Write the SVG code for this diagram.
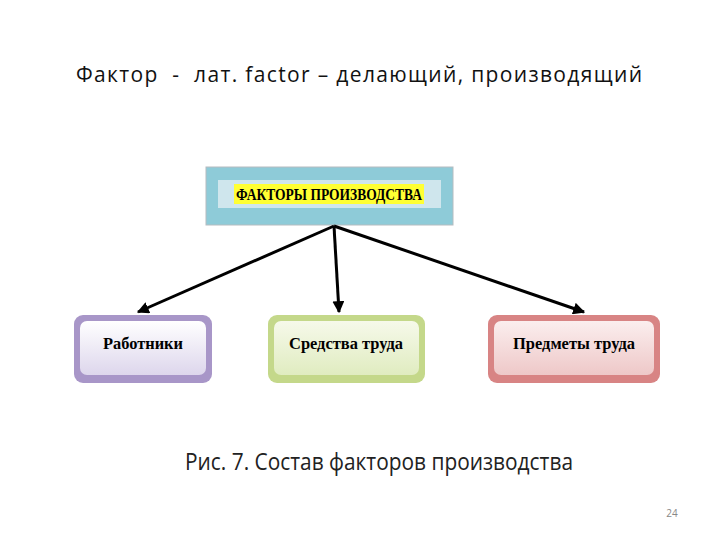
<svg xmlns="http://www.w3.org/2000/svg" width="720" height="540" viewBox="0 0 720 540">
<defs>
<style>
.t{font-family:"Liberation Serif",serif;font-weight:bold;font-size:17px;text-anchor:middle}
.c{stroke:#000;stroke-width:3;fill:none}
</style>
<marker id="a" viewBox="0 0 10 10" refX="9" refY="5" markerWidth="4" markerHeight="4" orient="auto"><path d="M0,0L10,5L0,10z" fill="#000"/></marker>
<linearGradient id="gp" x1="0" y1="0" x2="0" y2="1"><stop offset="0" stop-color="#fff"/><stop offset="1" stop-color="#ddd6ec"/></linearGradient>
<linearGradient id="gg" x1="0" y1="0" x2="0" y2="1"><stop offset="0" stop-color="#f6f9ea"/><stop offset="1" stop-color="#e0ecc0"/></linearGradient>
<linearGradient id="gr" x1="0" y1="0" x2="0" y2="1"><stop offset="0" stop-color="#fbeeee"/><stop offset="1" stop-color="#eec8c8"/></linearGradient>
</defs>
<rect width="720" height="540" fill="#fff"/>
<text x="76" y="82" font-family="Open Sans,sans-serif" font-size="21" fill="#111" textLength="566" lengthAdjust="spacing" xml:space="preserve">Фактор  -  лат. factor – делающий, производящий</text>
<g id="top">
<rect x="206" y="167" width="247" height="58" fill="#8ecbd8" stroke="#b5bcc0"/>
<rect x="218" y="180" width="223" height="28" fill="#cfe6ed"/>
<rect x="234" y="184" width="190" height="20" fill="#ffff33"/>
<text class="t" x="329" y="200" font-size="15" textLength="186" lengthAdjust="spacingAndGlyphs">ФАКТОРЫ ПРОИЗВОДСТВА</text>
</g>
<g id="n1">
<rect x="74" y="315" width="138" height="68" rx="9" fill="#a896c8"/>
<rect x="80" y="321" width="126" height="54" rx="7" fill="url(#gp)"/>
<text class="t" x="143" y="349" textLength="80" lengthAdjust="spacingAndGlyphs">Работники</text>
</g>
<g id="n2">
<rect x="268" y="315" width="157" height="68" rx="9" fill="#c4d88a"/>
<rect x="274" y="321" width="145" height="54" rx="7" fill="url(#gg)"/>
<text class="t" x="346" y="349" textLength="114" lengthAdjust="spacingAndGlyphs">Средства труда</text>
</g>
<g id="n3">
<rect x="488" y="315" width="172" height="68" rx="9" fill="#d88484"/>
<rect x="494" y="321" width="160" height="54" rx="7" fill="url(#gr)"/>
<text class="t" x="574" y="349" textLength="122" lengthAdjust="spacingAndGlyphs">Предметы труда</text>
</g>
<g id="connectors">
<line class="c" x1="334" y1="226" x2="138" y2="312" marker-end="url(#a)"/>
<line class="c" x1="334" y1="226" x2="339" y2="312" marker-end="url(#a)"/>
<line class="c" x1="334" y1="226" x2="584" y2="312" marker-end="url(#a)"/>
</g>
<text x="185" y="470" font-family="Open Sans,sans-serif" font-size="24" fill="#222" textLength="388" lengthAdjust="spacingAndGlyphs">Рис. 7. Состав факторов производства</text>
<text x="672" y="517" font-family="Open Sans,sans-serif" font-size="10" text-anchor="middle" fill="#888">24</text>
</svg>
